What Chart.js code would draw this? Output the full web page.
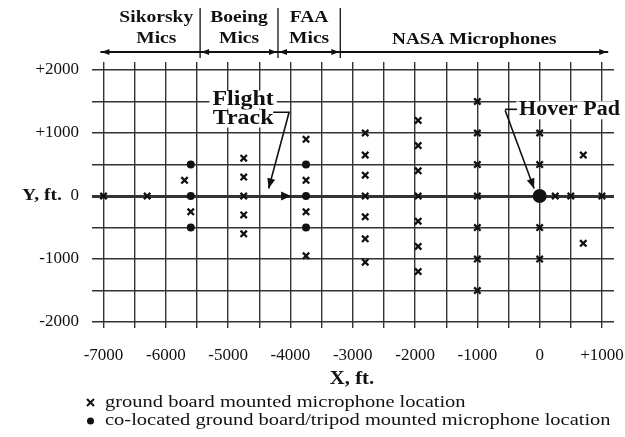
<!DOCTYPE html>
<html>
<head>
<meta charset="utf-8">
<script src="https://cdn.jsdelivr.net/npm/chart.js@4.4.1/dist/chart.umd.min.js"></script>
<style>
html, body { margin: 0; padding: 0; background: #fff; }
</style>
</head>
<body>
<canvas id="myChart" width="625" height="437"></canvas>
<script>
// ground board mics (x marks)
const groundX = [-7000, -6300, -5700, -5600,
  -4750, -4750, -4750, -4750, -4750,
  -3750, -3750, -3750, -3750,
  -2800, -2800, -2800, -2800, -2800, -2800, -2800,
  -1950, -1950, -1950, -1950, -1950, -1950, -1950,
  -1000, -1000, -1000, -1000, -1000, -1000, -1000,
  0, 0, 0, 0,
  250, 500, 1000, 700, 700];
const groundY = [0, 0, 250, -250,
  600, 300, 0, -300, -600,
  900, 250, -250, -950,
  1000, 650, 330, 0, -330, -680, -1050,
  1200, 800, 400, 0, -400, -800, -1200,
  1500, 1000, 500, 0, -500, -1000, -1500,
  1000, 500, -500, -1000,
  0, 0, 0, 650, -750];
// co-located ground board / tripod mics (dots)
const tripodX = [-5600, -5600, -5600, -3750, -3750, -3750];
const tripodY = [500, 0, -500, 500, 0, -500];
const hoverPad = { x: 0, y: 0 };

const xLabelValues = [-7000, -6000, -5000, -4000, -3000, -2000, -1000, 0, 1000];
const xLabelText = ['-7000', '-6000', '-5000', '-4000', '-3000', '-2000', '-1000', '0', '+1000'];
const yLabelValues = [2000, 1000, 0, -1000, -2000];
const yLabelText = ['+2000', '+1000', '0', '-1000', '-2000'];

const groupNames = [['Sikorsky', 'Mics'], ['Boeing', 'Mics'], ['FAA', 'Mics'], ['NASA Microphones']];
const groupBounds = [-7050, -5450, -4200, -3200, 1100];
const legendText = ['ground board mounted microphone location',
  'co-located ground board/tripod mounted microphone location'];

const INK = '#111';
const SERIF = '"Liberation Serif", "DejaVu Serif", serif';

function stretchText(ctx, text, x, y, font, align, sx, bg) {
  ctx.save();
  ctx.font = font;
  ctx.textAlign = 'left';
  ctx.textBaseline = 'middle';
  const w = ctx.measureText(text).width * sx;
  let left = x;
  if (align === 'center') left = x - w / 2;
  if (align === 'right') left = x - w;
  if (bg) {
    ctx.fillStyle = '#fff';
    ctx.fillRect(left - 3, y - 9, w + 6, 18);
  }
  ctx.translate(left, y);
  ctx.scale(sx, 1);
  ctx.fillStyle = INK;
  ctx.fillText(text, 0, 0);
  ctx.restore();
}

function arrowHead(ctx, x1, y1, x2, y2, len, half) {
  const a = Math.atan2(y2 - y1, x2 - x1);
  ctx.beginPath();
  ctx.moveTo(x2, y2);
  ctx.lineTo(x2 - len * Math.cos(a) + half * Math.sin(a), y2 - len * Math.sin(a) - half * Math.cos(a));
  ctx.lineTo(x2 - len * Math.cos(a) - half * Math.sin(a), y2 - len * Math.sin(a) + half * Math.cos(a));
  ctx.closePath();
  ctx.fill();
}

const extras = {
  id: 'extras',
  afterDatasetsDraw(chart) {
    const ctx = chart.ctx;
    const xs = chart.scales.x, ys = chart.scales.y;
    ctx.save();
    ctx.strokeStyle = INK;
    ctx.fillStyle = INK;

    // header with group arrows
    const hy = 52;
    ctx.lineWidth = 2;
    ctx.beginPath();
    ctx.moveTo(xs.getPixelForValue(groupBounds[0]), hy);
    ctx.lineTo(xs.getPixelForValue(groupBounds[groupBounds.length - 1]), hy);
    ctx.stroke();
    ctx.lineWidth = 1.3;
    for (let i = 1; i < groupBounds.length - 1; i++) {
      const px = xs.getPixelForValue(groupBounds[i]);
      ctx.beginPath();
      ctx.moveTo(px, 8);
      ctx.lineTo(px, 58);
      ctx.stroke();
    }
    for (let i = 0; i < groupNames.length; i++) {
      const a = xs.getPixelForValue(groupBounds[i]);
      const b = xs.getPixelForValue(groupBounds[i + 1]);
      if (i < 3) arrowHead(ctx, a + 8, hy, a + 1, hy, 8, 3);
      if (i > 0) arrowHead(ctx, b - 8, hy, b - 1, hy, 8, 3);
      const cx = (a + b) / 2 + (i === 0 ? 6 : 0);
      const names = groupNames[i];
      if (names.length === 2) {
        stretchText(ctx, names[0], cx, 18, 'bold 16px ' + SERIF, 'center', 1.22);
        stretchText(ctx, names[1], cx, 39, 'bold 16px ' + SERIF, 'center', 1.22);
      } else {
        stretchText(ctx, names[0], cx, 40, 'bold 16px ' + SERIF, 'center', 1.2);
      }
    }

    // flight track arrowhead
    const y0 = ys.getPixelForValue(0);
    arrowHead(ctx, xs.getPixelForValue(-4200), y0, xs.getPixelForValue(-3990), y0, 10, 4.5);

    // Flight Track label + leader
    const fx = xs.getPixelForValue(-4760);
    stretchText(ctx, 'Flight', fx, ys.getPixelForValue(1530), 'bold 20px ' + SERIF, 'center', 1.2, true);
    stretchText(ctx, 'Track', fx, ys.getPixelForValue(1230), 'bold 20px ' + SERIF, 'center', 1.2, true);
    const ty = ys.getPixelForValue(1330);
    const tipX = xs.getPixelForValue(-4350), tipY = ys.getPixelForValue(120);
    ctx.lineWidth = 1.6;
    ctx.beginPath();
    ctx.moveTo(fx + 30, ty);
    ctx.lineTo(fx + 46, ty);
    ctx.lineTo(tipX, tipY);
    ctx.stroke();
    arrowHead(ctx, fx + 46, ty, tipX, tipY, 10, 4);

    // Hover Pad label + leader
    const hx = xs.getPixelForValue(-330), hyy = ys.getPixelForValue(1360);
    stretchText(ctx, 'Hover Pad', hx, hyy, 'bold 20px ' + SERIF, 'left', 1.1, true);
    ctx.lineWidth = 1.6;
    ctx.beginPath();
    ctx.moveTo(hx - 14, hyy - 1);
    ctx.lineTo(hx - 2, hyy - 1);
    ctx.stroke();
    const pX = xs.getPixelForValue(-90), pY = ys.getPixelForValue(120);
    ctx.beginPath();
    ctx.moveTo(hx - 14, hyy);
    ctx.lineTo(pX, pY);
    ctx.stroke();
    arrowHead(ctx, hx - 14, hyy, pX, pY, 10, 4);

    // axis titles
    stretchText(ctx, 'Y, ft.', 22, y0, 'bold 17px ' + SERIF, 'left', 1.15);
    stretchText(ctx, 'X, ft.', 352, 379, 'bold 18px ' + SERIF, 'center', 1.15);

    // legend
    ctx.lineWidth = 2;
    ctx.beginPath();
    ctx.moveTo(87, 399); ctx.lineTo(94, 406);
    ctx.moveTo(94, 399); ctx.lineTo(87, 406);
    ctx.stroke();
    ctx.beginPath();
    ctx.arc(90.5, 421, 3.5, 0, Math.PI * 2);
    ctx.fill();
    stretchText(ctx, legendText[0], 105, 403, '16px ' + SERIF, 'left', 1.28);
    stretchText(ctx, legendText[1], 105, 421, '16px ' + SERIF, 'left', 1.28);
    ctx.restore();
  }
};

function halfSteps(scale, from, to) {
  const t = [];
  for (let v = from; v <= to; v += 500) t.push({ value: v });
  scale.ticks = t;
}

const ctx = document.getElementById('myChart');
const myChart = new Chart(ctx, {
  type: 'scatter',
  data: {
    datasets: [
      {
        label: 'ground board mounted',
        data: groundX.map((x, i) => ({ x: x, y: groundY[i] })),
        pointStyle: 'crossRot',
        pointRadius: 4.5,
        borderWidth: 2.3,
        borderColor: INK,
        backgroundColor: INK
      },
      {
        label: 'co-located',
        data: tripodX.map((x, i) => ({ x: x, y: tripodY[i] })),
        pointStyle: 'circle',
        pointRadius: 4,
        borderWidth: 0,
        backgroundColor: INK
      },
      {
        label: 'Hover Pad',
        data: [hoverPad],
        pointStyle: 'circle',
        pointRadius: 7,
        borderWidth: 0,
        backgroundColor: INK
      }
    ]
  },
  options: {
    responsive: false,
    animation: false,
    devicePixelRatio: 1,
    layout: { padding: { left: 0, right: 11, top: 62, bottom: 0 } },
    plugins: { legend: { display: false }, tooltip: { enabled: false } },
    scales: {
      x: {
        type: 'linear',
        min: -7185,
        max: 1193,
        afterBuildTicks: (s) => halfSteps(s, -7000, 1000),
        afterFit: (s) => { s.height = 109; s.paddingLeft = 0; s.paddingRight = 0; },
        border: { display: false },
        grid: { color: '#333', lineWidth: 1.4, drawTicks: false },
        ticks: {
          autoSkip: false,
          maxRotation: 0,
          padding: 17,
          color: INK,
          font: { family: SERIF, size: 17 },
          callback: (v) => {
            const i = xLabelValues.indexOf(v);
            return i >= 0 ? xLabelText[i] : '';
          }
        }
      },
      y: {
        type: 'linear',
        min: -2095,
        max: 2127,
        afterBuildTicks: (s) => halfSteps(s, -2000, 2000),
        afterFit: (s) => { s.width = 92; s.paddingTop = 0; s.paddingBottom = 0; },
        border: { display: false },
        grid: {
          color: '#333',
          lineWidth: (c) => (c.tick && c.tick.value === 0 ? 3 : 1.4),
          drawTicks: false
        },
        ticks: {
          autoSkip: false,
          padding: 13,
          color: INK,
          font: { family: SERIF, size: 17 },
          callback: (v) => {
            const i = yLabelValues.indexOf(v);
            return i >= 0 ? yLabelText[i] : '';
          }
        }
      }
    }
  },
  plugins: [extras]
});
</script>
</body>
</html>
